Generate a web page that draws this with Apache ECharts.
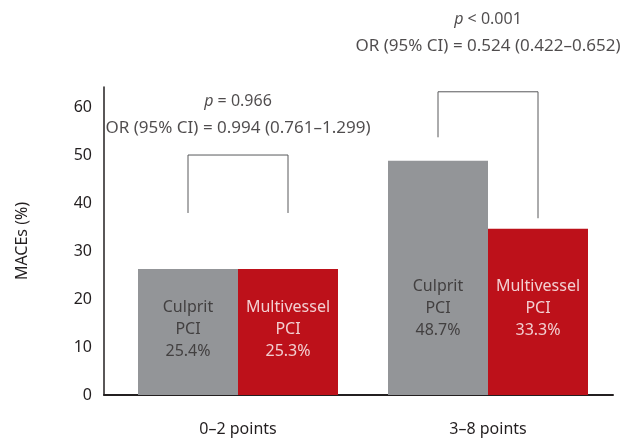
<!DOCTYPE html>
<html>
<head>
<meta charset="utf-8">
<script src="https://cdn.jsdelivr.net/npm/echarts@6/dist/echarts.min.js"></script>
<style>
  html, body { margin: 0; padding: 0; background: #fff; }
  #chart { width: 630px; height: 439px; }
</style>
</head>
<body>
<div id="chart"></div>
<script>
// 数据
const categories = ['0–2 points', '3–8 points']
const culpritValues = [26.3, 48.9]
const multivesselValues = [26.3, 34.7]
const culpritPct = ['25.4%', '48.7%']
const multivesselPct = ['25.3%', '33.3%']
const pTexts = ['= 0.966', '< 0.001']
const orTexts = ['0.994 (0.761–1.299)', '0.524 (0.422–0.652)']
const bracketTop = [50.1, 63.3]
const bracketLeftFoot = [38.0, 53.8]
const bracketRightFoot = [38.0, 36.9]
const annotationY = [58.5, 75.6]
const barLabelY = [13.6, 18.0]

const textColor = '#231f20'
const half = 0.2   // 柱子中心相对分类中心的偏移

const chart = echarts.init(document.getElementById('chart'))

const bracketSeries = categories.map((c, i) => ({
  type: 'line',
  symbol: 'none',
  silent: true,
  clip: false,
  z: 5,
  lineStyle: { color: '#58595b', width: 1 },
  data: [
    [i - half, bracketLeftFoot[i]],
    [i - half, bracketTop[i]],
    [i + half, bracketTop[i]],
    [i + half, bracketRightFoot[i]]
  ]
}))

const option = {
  animation: false,
  textStyle: { fontFamily: 'Noto Sans' },
  grid: { left: 104, right: 17, top: 87, bottom: 44 },
  xAxis: {
    type: 'value',
    min: -0.536,
    max: 1.5,
    splitLine: { show: false },
    axisTick: { show: false },
    axisLine: { show: true, onZero: false, lineStyle: { color: textColor, width: 2 } },
    axisLabel: {
      customValues: [0, 1],
      formatter: v => categories[Math.round(v)],
      color: textColor,
      fontSize: 16,
      margin: 26
    }
  },
  yAxis: {
    type: 'value',
    min: 0,
    max: 64.3,
    interval: 10,
    name: 'MACEs (%)',
    nameLocation: 'middle',
    nameGap: 74,
    nameTextStyle: { color: textColor, fontSize: 16 },
    splitLine: { show: false },
    axisTick: { show: false },
    axisLine: { show: true, onZero: false, lineStyle: { color: textColor, width: 1.5 } },
    axisLabel: { color: textColor, fontSize: 16, margin: 12, showMaxLabel: false }
  },
  series: [
    {
      name: 'Culprit PCI',
      type: 'bar',
      barWidth: 100,
      barGap: '0%',
      itemStyle: { color: '#939598' },
      data: culpritValues.map((v, i) => [i, v])
    },
    {
      name: 'Multivessel PCI',
      type: 'bar',
      barWidth: 100,
      barGap: '0%',
      itemStyle: { color: '#bd111a' },
      data: multivesselValues.map((v, i) => [i, v])
    },
    ...bracketSeries,
    // 柱内文字
    {
      type: 'scatter',
      symbolSize: 0,
      silent: true,
      z: 6,
      label: {
        show: true,
        position: 'inside',
        color: '#2e2a2b',
        fontSize: 16,
        lineHeight: 22,
        align: 'center',
        formatter: p => 'Culprit\nPCI\n' + culpritPct[p.dataIndex]
      },
      data: barLabelY.map((y, i) => [i - half, y])
    },
    {
      type: 'scatter',
      symbolSize: 0,
      silent: true,
      z: 6,
      label: {
        show: true,
        position: 'inside',
        color: '#ffffff',
        fontSize: 16,
        lineHeight: 22,
        align: 'center',
        formatter: p => 'Multivessel\nPCI\n' + multivesselPct[p.dataIndex]
      },
      data: barLabelY.map((y, i) => [i + half, y])
    },
    // p值 和 OR 注释
    {
      type: 'scatter',
      symbolSize: 0,
      silent: true,
      clip: false,
      z: 6,
      label: {
        show: true,
        position: 'inside',
        color: textColor,
        fontSize: 16,
        lineHeight: 26,
        align: 'center',
        formatter: p => '{i|p}{n| ' + pTexts[p.dataIndex] + '}\n{o|OR (95% CI) = ' + orTexts[p.dataIndex] + '}',
        rich: {
          i: { fontStyle: 'italic', fontSize: 16, color: textColor, lineHeight: 26 },
          n: { fontSize: 16, color: textColor, lineHeight: 26 },
          o: { fontSize: 17, color: textColor, lineHeight: 26 }
        }
      },
      data: annotationY.map((y, i) => [i, y])
    }
  ]
}

chart.setOption(option)
</script>
</body>
</html>
